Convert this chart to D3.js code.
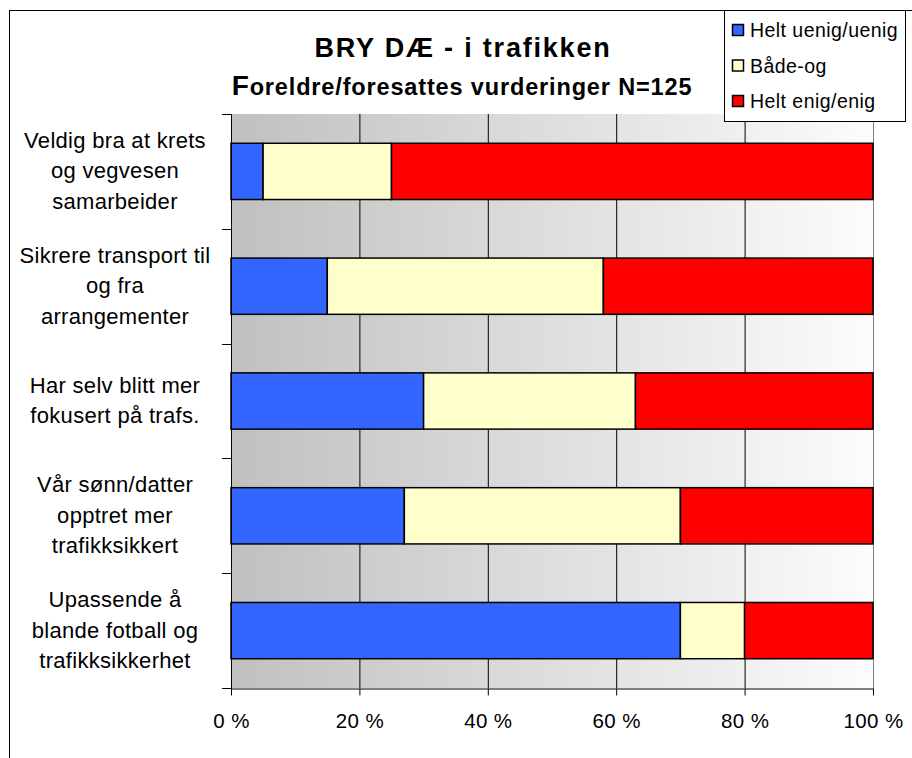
<!DOCTYPE html>
<html>
<head>
<meta charset="utf-8">
<script src="https://cdn.jsdelivr.net/npm/d3@7"></script>
<style>
  body { margin: 0; background: #fff; }
  svg { font-family: "Liberation Sans", Arial, sans-serif; }
</style>
</head>
<body>
<svg id="chart" width="912" height="758"></svg>
<script>
// categories, top to bottom
const categories = [
  ['Veldig bra at krets', 'og vegvesen', 'samarbeider'],
  ['Sikrere transport til', 'og fra', 'arrangementer'],
  ['Har selv blitt mer', 'fokusert på trafs.'],
  ['Vår sønn/datter', 'opptret mer', 'trafikksikkert'],
  ['Upassende å', 'blande fotball og', 'trafikksikkerhet']
];
const seriesNames = ['Helt uenig/uenig', 'Både-og', 'Helt enig/enig'];
const seriesColors = ['#3366ff', '#ffffcc', '#ff0000'];
// percent of respondents
const uenig = [5, 15, 30, 27, 70];
const badeOg = [20, 43, 33, 43, 10];
const enig = [75, 42, 37, 30, 20];
const xTicks = [0, 20, 40, 60, 80, 100];

const svg = d3.select('#chart');
const m = { left: 231, right: 873, top: 114, bottom: 688 };

const x = d3.scaleLinear().domain([0, 100]).range([m.left, m.right]);
const y = d3.scaleBand().domain(d3.range(categories.length))
  .range([m.top, m.bottom]).paddingInner(0.51).paddingOuter(0.255);
const yb = d3.scaleBand().domain(d3.range(categories.length)).range([m.top, m.bottom]);

// outer frame
svg.append('rect').attr('x', 9.5).attr('y', 10.5).attr('width', 1000).attr('height', 1000)
  .attr('fill', 'none').attr('stroke', '#000').attr('stroke-width', 1);

// plot background gradient
const grad = svg.append('defs').append('linearGradient').attr('id', 'bg')
  .attr('x1', '0%').attr('x2', '100%').attr('y1', '0%').attr('y2', '0%');
grad.append('stop').attr('offset', '0%').attr('stop-color', '#c0c0c0');
grad.append('stop').attr('offset', '100%').attr('stop-color', '#fcfcfc');
svg.append('rect').attr('x', m.left).attr('y', m.top)
  .attr('width', m.right - m.left).attr('height', m.bottom - m.top)
  .attr('fill', 'url(#bg)');

// vertical gridlines
svg.append('g').selectAll('line').data(xTicks.slice(1, -1)).join('line')
  .attr('x1', d => x(d) + 0.5).attr('x2', d => x(d) + 0.5)
  .attr('y1', m.top).attr('y2', m.bottom)
  .attr('stroke', '#000').attr('stroke-width', 1);
svg.append('line').attr('x1', m.right + 0.5).attr('x2', m.right + 0.5)
  .attr('y1', m.top).attr('y2', m.bottom).attr('stroke', '#808080');

// stacked bars
const rows = categories.map((c, i) => ({ i, v: [uenig[i], badeOg[i], enig[i]] }));
const stack = d3.stack().keys([0, 1, 2]).value((d, k) => d.v[k]);
svg.append('g').selectAll('g').data(stack(rows)).join('g')
  .attr('fill', (d, k) => seriesColors[k])
  .selectAll('rect').data(d => d).join('rect')
  .attr('x', d => x(d[0]))
  .attr('y', d => y(d.data.i))
  .attr('width', d => x(d[1]) - x(d[0]))
  .attr('height', y.bandwidth())
  .attr('stroke', '#000').attr('stroke-width', 1.5);

// axes
const yAxis = svg.append('g');
yAxis.append('line').attr('x1', m.left + 0.5).attr('x2', m.left + 0.5)
  .attr('y1', m.top).attr('y2', m.bottom + 6).attr('stroke', '#000');
yAxis.selectAll('line.tk').data(d3.range(categories.length + 1)).join('line')
  .attr('class', 'tk')
  .attr('x1', m.left - 9).attr('x2', m.left)
  .attr('y1', d => Math.round(m.top + d * yb.bandwidth()) + 0.5)
  .attr('y2', d => Math.round(m.top + d * yb.bandwidth()) + 0.5)
  .attr('stroke', '#000');

const xAxis = svg.append('g').attr('transform', `translate(0,${m.bottom + 0.5})`)
  .call(d3.axisBottom(x).tickValues(xTicks).tickSize(7).tickSizeOuter(0).tickFormat(d => d + ' %'));
xAxis.select('.domain').attr('stroke', '#000');
xAxis.selectAll('.tick line').attr('stroke', '#000');
xAxis.selectAll('text').attr('font-size', 20.5).attr('fill', '#000')
  .attr('letter-spacing', 0.4)
  .attr('font-family', '"Liberation Sans", Arial, sans-serif')
  .attr('y', 39).attr('dy', 0);

// category labels
const lineH = 30.5;
svg.append('g').selectAll('text').data(categories).join('text')
  .attr('text-anchor', 'middle').attr('font-size', 22).attr('fill', '#000')
  .attr('letter-spacing', 0.3)
  .each(function (lines, i) {
    const cy = yb(i) + yb.bandwidth() / 2;
    const y0 = cy - (lines.length - 1) * lineH / 2;
    d3.select(this).selectAll('tspan').data(lines).join('tspan')
      .attr('x', 115).attr('y', (d, j) => y0 + j * lineH + 7).text(d => d);
  });

// titles
svg.append('text').attr('x', 463).attr('y', 57).attr('text-anchor', 'middle')
  .attr('font-size', 27).attr('font-weight', 'bold').attr('letter-spacing', 1.8)
  .text('BRY DÆ - i trafikken');
const sub = svg.append('text').attr('x', 462).attr('y', 95).attr('text-anchor', 'middle')
  .attr('font-size', 23.5).attr('font-weight', 'bold').attr('letter-spacing', 0.85);
sub.append('tspan').attr('font-size', 28).text('F');
sub.append('tspan').text('oreldre/foresattes vurderinger N=125');

// legend
const lg = svg.append('g');
lg.append('rect').attr('x', 724.5).attr('y', 10.5).attr('width', 181).attr('height', 111)
  .attr('fill', '#fff').attr('stroke', '#000');
const li = lg.selectAll('g').data(seriesNames).join('g')
  .attr('transform', (d, k) => `translate(732,${30 + k * 35.5})`);
li.append('rect').attr('x', 0.5).attr('y', -5.5).attr('width', 11).attr('height', 11)
  .attr('fill', (d, k) => seriesColors[k]).attr('stroke', '#000').attr('stroke-width', 1.5);
li.append('text').attr('x', 18).attr('y', 7).attr('font-size', 19.5).attr('letter-spacing', 0.45)
  .text(d => d);
</script>
</body>
</html>
